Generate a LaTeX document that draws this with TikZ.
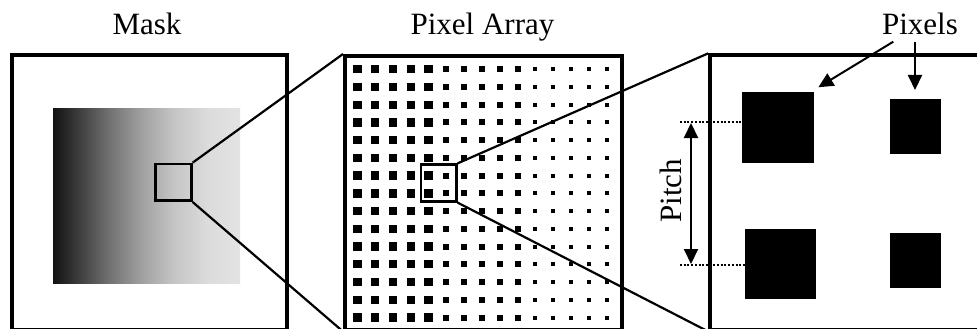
\documentclass[tikz,border=0pt]{standalone}
\usepackage{fontspec}
\setmainfont{Liberation Serif}
\usetikzlibrary{arrows.meta}
\pgfdeclarehorizontalshading{maskshade}{100bp}{color(0bp)=(black!93); color(25bp)=(black!93); color(30.3bp)=(black!80); color(39.4bp)=(black!57); color(48.3bp)=(black!38); color(57.1bp)=(black!23); color(66.2bp)=(black!14); color(75bp)=(black!11); color(100bp)=(black!11)}
\tikzset{
  panel/.style={draw, line width=4pt, inner sep=0pt, fill=none},
  zoombox/.style={draw, line width=2.7pt, inner sep=0pt},
  conn/.style={line width=2.2pt},
  pxl/.style={fill=black, inner sep=0pt},
  title/.style={font=\fontsize{31pt}{36pt}\selectfont, inner sep=0pt},
  dotline/.style={line width=2pt, dash pattern=on 2pt off 1.7pt},
  arr/.style={line width=2pt, -{Triangle[length=15pt,width=14pt]}},
  dblarr/.style={line width=2pt, {Triangle[length=15pt,width=14pt]}-{Triangle[length=15pt,width=14pt]}},
}
\begin{document}
\begin{tikzpicture}[x=1pt,y=-1pt]
\useasboundingbox (0,0) rectangle (977,329);
\clip (0,0) rectangle (977,329);
% titles
\node[title, anchor=base] (tmask) at (147,35) {Mask};
\node[title, anchor=base] (tarray) at (482.5,35) {Pixel Array};
\node[title, anchor=base] (tpix) at (920,35) {Pixels};
% mask panel
\node[shade, shading=maskshade, inner sep=0pt, minimum width=187pt, minimum height=175pt] (grad) at (146.5,195.5) {};
\node[panel, minimum width=275pt, minimum height=274.5pt] (mask) at (149.5,192.25) {};
\node[zoombox, minimum width=36pt, minimum height=36.7pt] (mrect) at (173.3,182.35) {};
% pixel array panel
\foreach \i in {0,...,14}{
  \foreach \j in {0,...,14}{
    \pgfmathsetmacro\s{\i<5 ? 8.3 : (\i<10 ? 6 : 4)}
    \fill ({357.4+17.8*\i-\s/2},{69.2+17.74*\j-\s/2}) rectangle ++(\s,\s);
  }
}
\node[panel, minimum width=276.7pt, minimum height=273.5pt] (parr) at (483.35,192.75) {};
\node[zoombox, minimum width=35.3pt, minimum height=36.6pt] (prect) at (438.65,183) {};
% right panel
\node[panel, minimum width=279.7pt, minimum height=274.2pt] (rbox) at (850.15,192.4) {};
\node[pxl, minimum width=72pt, minimum height=71pt] (tl) at (778.3,127.2) {};
\node[pxl, minimum width=50.7pt, minimum height=54.7pt] (tr) at (915.35,126.65) {};
\node[pxl, minimum width=70.7pt, minimum height=69.7pt] (bl) at (780.35,264.15) {};
\node[pxl, minimum width=50.7pt, minimum height=55pt] (br) at (915.35,260.8) {};
% zoom connectors
\draw[conn] (mrect.north east) -- (parr.north west);
\draw[conn] (mrect.south east) -- (parr.south west);
\draw[conn] (prect.north east) -- (rbox.north west);
\draw[conn] (prect.south east) -- (rbox.south west);
% pitch
\coordinate (pt) at (680,122.3);
\coordinate (pb) at (680,265);
\draw[dotline] (pt) -- (pt -| tl.west);
\draw[dotline] (pb) -- (pb -| bl.west);
\coordinate (pat) at (691,123);
\coordinate (pab) at (691,264);
\draw[dblarr] (pab) -- (pat);
\node[title, rotate=90, anchor=base] (pitch) at (681.5,190.8) {Pitch};
% pixels arrows
\coordinate (pa1) at (893.3,41.7);
\coordinate (pa2) at (915,41.7);
\coordinate (ta1) at (818.3,87.3);
\coordinate (ta2) at (915,90);
\draw[arr] (pa1) -- (ta1);
\draw[arr] (pa2) -- (ta2);
\end{tikzpicture}
\end{document}
